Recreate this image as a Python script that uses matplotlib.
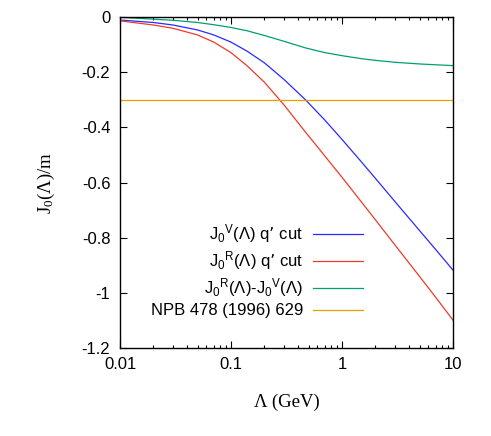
import numpy as np
import matplotlib
matplotlib.use("Agg")
import matplotlib.pyplot as plt
from matplotlib.ticker import LogLocator, NullFormatter

plt.rcParams['font.family'] = ['Liberation Sans', 'DejaVu Sans']
plt.rcParams['mathtext.default'] = 'regular'
plt.rcParams['axes.unicode_minus'] = False

# values
lam = [0.01, 0.02, 0.03, 0.05, 0.07, 0.1, 0.14, 0.2, 0.3, 0.47, 0.7, 1.0,
       1.5, 2.0, 3.0, 5.0, 7.0, 10.0]
jv = [-0.012, -0.021, -0.030, -0.048, -0.066, -0.092, -0.125, -0.167, -0.227,
      -0.301, -0.374, -0.444, -0.526, -0.585, -0.669, -0.774, -0.843, -0.917]
jr = [-0.015, -0.030, -0.042, -0.066, -0.092, -0.130, -0.178, -0.237, -0.319,
      -0.418, -0.504, -0.581, -0.671, -0.735, -0.826, -0.940, -1.016, -1.098]
jd = [-0.002, -0.009, -0.013, -0.021, -0.029, -0.039, -0.051, -0.068, -0.089,
      -0.113, -0.130, -0.141, -0.152, -0.158, -0.165, -0.171, -0.174, -0.177]

npb_x = [0.01, 10.0]
npb_y = [-0.3, -0.3]

labels = ['J$_0$$^{V}$(Λ) q’ cut', 'J$_0$$^{R}$(Λ) q’ cut',
          'J$_0$$^{R}$(Λ)-J$_0$$^{V}$(Λ)', 'NPB 478 (1996) 629']
colors = ['#2a2aff', '#f03a28', '#009e73', '#e69f00']

xticks = [0.01, 0.1, 1, 10]
xticklabels = ['0.01', '0.1', '1', '10']
yticks = [0, -0.2, -0.4, -0.6, -0.8, -1, -1.2]
yticklabels = ['0', '-0.2', '-0.4', '-0.6', '-0.8', '-1', '-1.2']

fig = plt.figure(figsize=(4.91, 4.36), dpi=100)
ax = fig.add_axes([0.2444, 0.2011, 0.6782, 0.7606])

series = [(lam, jv), (lam, jr), (lam, jd), (npb_x, npb_y)]
for (x, y), lab, col in zip(series, labels, colors):
    ax.plot(x, y, color=col, lw=0.9, label=lab)

ax.set_xscale('log')
ax.set_xlim(0.01, 10)
ax.set_ylim(-1.2, 0)
ax.set_xticks(xticks, xticklabels)
ax.xaxis.set_minor_locator(LogLocator(base=10, subs=np.arange(2, 10)))
ax.xaxis.set_minor_formatter(NullFormatter())
ax.set_yticks(yticks, yticklabels)
ax.tick_params(which='both', direction='in', top=True, right=True, labelsize=12)
ax.tick_params(which='major', length=5, width=0.8)
ax.tick_params(which='minor', length=2.5, width=0.8)
ax.tick_params(axis='y', pad=7)
ax.tick_params(axis='x', pad=6)
for s in ax.spines.values():
    s.set_linewidth(1.0)

ax.set_xlabel('Λ (GeV)', family='Liberation Serif', fontsize=13.5, labelpad=16)
ax.set_ylabel('J$_0$(Λ)/m', family='Liberation Serif', fontsize=13.5, labelpad=18)

ax.legend(loc='lower right', bbox_to_anchor=(0.73, 0.09), frameon=False,
          markerfirst=False, handlelength=3, handletextpad=0.6,
          labelspacing=0.25, borderpad=0, borderaxespad=0, fontsize=12)

fig.savefig('out.png', dpi=100)
